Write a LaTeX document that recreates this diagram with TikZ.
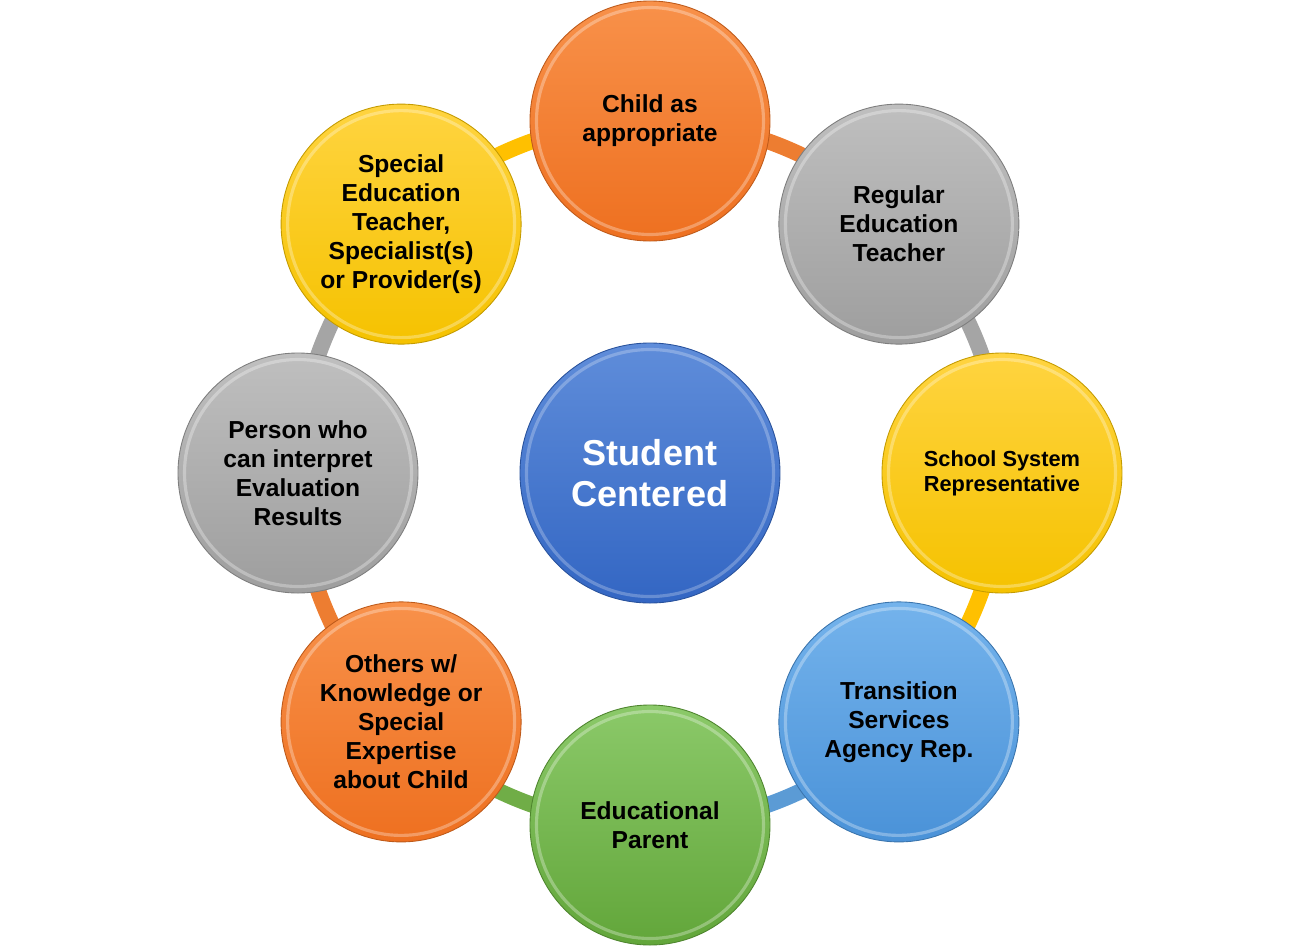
\documentclass[tikz,border=0pt]{standalone}
\usepackage{fontspec}
\setmainfont{Liberation Sans}
\usetikzlibrary{backgrounds, calc, positioning}

\definecolor{orngtop}{HTML}{F8914A}
\definecolor{orngbot}{HTML}{EE7020}
\definecolor{orng}{HTML}{ED7D31}
\definecolor{greytop}{HTML}{BFBFBF}
\definecolor{greybot}{HTML}{9E9E9E}
\definecolor{grey}{HTML}{A5A5A5}
\definecolor{yellwtop}{HTML}{FFD440}
\definecolor{yellwbot}{HTML}{F5C200}
\definecolor{yellw}{HTML}{FFC000}
\definecolor{ltbluetop}{HTML}{74B3EC}
\definecolor{ltbluebot}{HTML}{4A92D8}
\definecolor{ltblue}{HTML}{5B9BD5}
\definecolor{greentop}{HTML}{8BC969}
\definecolor{greenbot}{HTML}{62A63A}
\definecolor{green}{HTML}{70AD47}
\definecolor{hubtop}{HTML}{5F8DDA}
\definecolor{hubbot}{HTML}{3366C3}

\begin{document}
\begin{tikzpicture}[
  member/.style={circle, minimum size=4.8cm, inner sep=0pt, align=center,
    font=\bfseries\fontsize{14}{16.5}\selectfont,
    draw=#1bot!80!black, line width=0.5pt, top color=#1top, bottom color=#1bot,
    path picture={\draw[white, opacity=0.3, line width=1.8pt]
      (path picture bounding box.center) circle (2.27);}},
  hub/.style={member=hub, minimum size=5.2cm, text=white,
    font=\bfseries\fontsize{20.5}{23.5}\selectfont,
    path picture={\draw[white, opacity=0.25, line width=1.8pt]
      (path picture bounding box.center) circle (2.47);}},
  link/.style={line width=0.32cm, draw=#1, bend left=22.5, looseness=0.89}]

\useasboundingbox (-13,-9.46) rectangle (13,9.46);

\node[hub] (hub) at (0,0) {Student\\Centered};

\node[member=orng] (child) at (90:7.04) {Child as\\appropriate};
\node[member=grey] (regular) at (45:7.04) {Regular\\Education\\Teacher};
\node[member=yellw, font=\bfseries\fontsize{12.4}{14.2}\selectfont] (school) at (0:7.04) {School System\\Representative};
\node[member=ltblue] (transition) at (-45:7.04) {Transition\\Services\\Agency Rep.};
\node[member=green] (parent) at (-90:7.04) {Educational\\Parent};
\node[member=orng] (others) at (-135:7.04) {Others w/\\Knowledge or\\Special\\Expertise\\about Child};
\node[member=grey] (interpret) at (180:7.04) {Person who\\can interpret\\Evaluation\\Results};
\node[member=yellw] (special) at (135:7.04) {Special\\Education\\Teacher,\\Specialist(s)\\or Provider(s)};

% ring pieces behind the circles
\begin{scope}[on background layer]
\draw[link=orng] (child.center) to (regular.center);
\draw[link=grey] (regular.center) to (school.center);
\draw[link=yellw] (school.center) to (transition.center);
\draw[link=ltblue] (transition.center) to (parent.center);
\draw[link=green] (parent.center) to (others.center);
\draw[link=orng] (others.center) to (interpret.center);
\draw[link=grey] (interpret.center) to (special.center);
\draw[link=yellw] (special.center) to (child.center);
\end{scope}
\end{tikzpicture}
\end{document}
